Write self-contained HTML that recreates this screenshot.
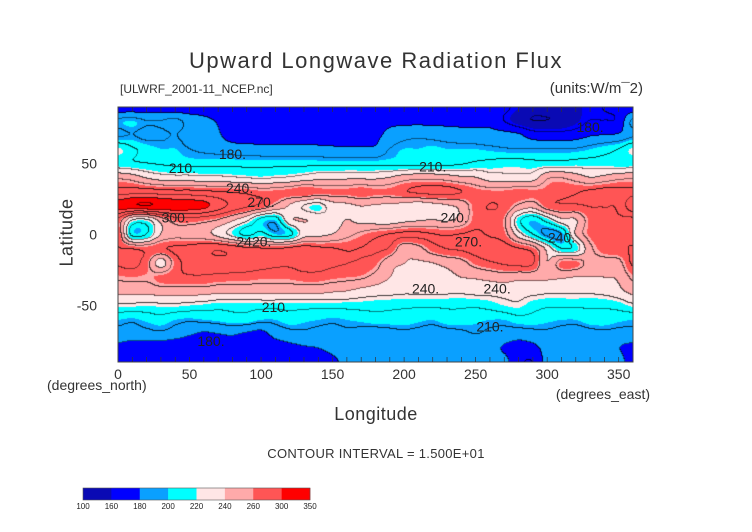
<!DOCTYPE html>
<html><head><meta charset="utf-8"><style>
body{margin:0;background:#fff;width:752px;height:532px;overflow:hidden;position:relative;font-family:"Liberation Sans",sans-serif;color:#222}
.t{position:absolute;white-space:nowrap;font-weight:300}
</style></head><body>
<div class="t" style="left:0;width:752px;text-align:center;top:48px;font-size:22px;letter-spacing:1.5px;color:#333">Upward Longwave Radiation Flux</div>
<div class="t" style="left:120px;top:82px;font-size:12px;color:#333">[ULWRF_2001-11_NCEP.nc]</div>
<div class="t" style="right:109px;top:80px;font-size:15px;color:#333">(units:W/m¯2)</div>
<div class="t" style="left:22px;top:222px;font-size:18px;transform:rotate(-90deg);transform-origin:center;width:90px;text-align:center;color:#333;letter-spacing:0.5px">Latitude</div>
<div class="t" style="left:0;width:752px;text-align:center;top:404px;font-size:18px;color:#333;letter-spacing:0.5px">Longitude</div>
<div class="t" style="left:47px;top:377px;font-size:14px;color:#333">(degrees_north)</div>
<div class="t" style="right:102px;top:386px;font-size:14px;color:#333">(degrees_east)</div>
<div class="t" style="left:0;width:752px;text-align:center;top:446px;font-size:13px;color:#333;letter-spacing:0.3px">CONTOUR INTERVAL = 1.500E+01</div>
<svg id="ax" width="752" height="532" style="position:absolute;left:0;top:0"></svg>
<canvas id="cv" width="515" height="255" style="position:absolute;left:118px;top:107px"></canvas>
<svg id="ov" width="752" height="532" style="position:absolute;left:0;top:0;pointer-events:none"></svg>
<script>
const levels=[100,160,180,200,220,240,260,300,350];
const levelColors=["#0a0ab4","#0000ff","#0aa0ff","#00ffff","#ffe6e6","#ffaaaa","#ff5555","#ff0000"];
const xTicks=[0,50,100,150,200,250,300,350];
const yTicks=[50,0,-50];
const lat90=[168,168,168,168,168,168,168,168,168,168,168,168,168,168,168,168,168,168,168,168,168,168,168,168,168,168,168,168,160,155,155,155,158,162,165,168,168];
const lat80=[198,200,195,195,198,190,185,178,172,172,172,172,172,172,172,172,172,172,172,175,175,175,175,175,175,175,175,165,155,150,150,152,158,165,165,168,198];
const lat70=[192,195,190,192,195,190,188,182,172,172,172,172,172,172,172,172,172,172,175,185,190,192,190,188,186,185,185,185,182,172,170,170,172,178,180,182,192];
const lat60=[222,212,205,200,200,195,192,190,188,186,185,185,185,185,184,183,182,182,183,195,200,200,202,200,200,200,198,196,195,195,195,195,196,200,205,210,222];
const lat50=[215,212,210,208,206,205,205,205,205,205,205,205,205,205,205,205,205,205,205,205,205,205,205,205,208,212,214,216,216,214,214,214,216,216,216,214,215];
const lat40=[252,248,238,232,230,230,228,228,226,224,222,224,226,230,234,234,236,236,236,240,247,250,250,247,242,240,232,230,230,232,252,254,248,240,244,250,252];
const lat30=[276,278,278,276,274,274,272,270,268,266,262,262,264,268,262,262,262,265,262,262,268,272,274,274,270,264,262,262,264,262,262,265,268,272,275,275,276];
const lat20=[308,312,314,312,310,308,304,292,280,272,266,252,238,224,218,232,236,240,238,236,234,230,234,238,244,264,270,267,252,246,264,268,268,270,270,272,295];
const lat10=[265,225,222,245,262,264,260,254,242,228,205,200,235,240,235,232,240,235,232,230,235,238,240,238,245,264,266,258,215,200,215,235,238,262,268,268,265];
const lat0=[268,205,210,240,250,248,245,235,220,205,215,200,205,232,235,240,250,258,265,270,272,272,270,268,270,272,268,262,232,210,192,195,240,262,265,268,268];
const latS10=[270,268,265,268,272,275,280,282,278,272,270,268,272,275,272,270,268,270,272,268,245,250,264,270,272,275,278,275,270,262,235,210,215,250,265,268,270];
const latS20=[272,275,262,232,262,275,278,280,280,278,275,272,272,275,275,272,270,268,262,245,240,238,240,245,250,262,268,272,275,272,240,262,262,250,248,250,272];
const latS30=[258,260,258,262,266,268,268,266,265,264,262,262,262,265,265,262,260,258,250,240,235,232,232,235,240,242,245,248,245,245,242,242,240,240,240,242,258];
const latS40=[245,245,245,248,248,248,248,245,245,245,245,245,245,245,245,242,240,235,232,230,228,228,228,228,228,230,230,230,230,230,228,228,228,228,230,235,245];
const latS50=[222,222,220,222,222,220,218,215,215,215,215,215,215,215,215,215,215,215,214,213,212,212,212,212,212,212,215,220,222,215,212,212,212,212,212,215,222];
const latS60=[200,198,202,205,200,198,200,202,205,205,200,200,205,202,200,198,200,202,205,205,205,202,200,205,205,202,200,200,205,205,202,200,200,205,205,202,200];
const latS70=[190,188,190,192,188,182,178,180,182,178,175,185,190,192,190,190,192,190,188,190,192,190,188,190,192,195,192,190,188,190,192,190,188,190,192,190,190];
const latS80=[175,172,170,170,168,168,170,172,170,168,170,172,175,178,180,185,188,188,190,190,188,185,188,190,190,188,185,178,172,175,185,188,190,188,185,180,175];
const latS90=[168,168,168,168,168,168,168,168,168,168,168,168,168,168,168,175,185,188,188,188,188,188,188,188,188,188,188,185,168,165,185,188,188,188,188,188,168];
const grid=[lat90,lat80,lat70,lat60,lat50,lat40,lat30,lat20,lat10,lat0,latS10,latS20,latS30,latS40,latS50,latS60,latS70,latS80,latS90];

const X0=118,X1=633,Y0=107,Y1=362;
const xs=lon=>X0+(lon/360)*(X1-X0);
const ys=lat=>Y0+((90-lat)/180)*(Y1-Y0);
function cr(p0,p1,p2,p3,t){return p1+0.5*t*(p2-p0+t*(2*p0-5*p1+4*p2-p3+t*(3*(p1-p2)+p3-p0)));}
function g(i,j){i=Math.max(0,Math.min(grid.length-1,i));j=Math.max(0,Math.min(grid[0].length-1,j));return grid[i][j];}
function val(lon,lat){
  const fi=(90-lat)/10, fj=lon/10;
  const i=Math.floor(fi), j=Math.floor(fj);
  const a=fi-i,b=fj-j;
  const r=[];
  for(let k=-1;k<=2;k++) r.push(cr(g(i+k,j-1),g(i+k,j),g(i+k,j+1),g(i+k,j+2),b));
  return cr(r[0],r[1],r[2],r[3],a)+0.37;
}
function hex(c){return [parseInt(c.slice(1,3),16),parseInt(c.slice(3,5),16),parseInt(c.slice(5,7),16)];}
const rgb=levelColors.map(hex);
function colIdx(v){for(let k=levels.length-2;k>=0;k--) if(v>=levels[k]) return k; return 0;}
const cv=document.getElementById('cv'),ctx=cv.getContext('2d');
const W=cv.width,H=cv.height,img=ctx.createImageData(W,H);
const V=new Float32Array(W*H);
for(let y=0;y<H;y++)for(let x=0;x<W;x++){
  const lon=(x+0.5)/W*360, lat=90-(y+0.5)/H*180;
  V[y*W+x]=val(lon,lat);
}
const cl=v=>Math.floor((v-165)/15);
for(let y=0;y<H;y++)for(let x=0;x<W;x++){
  const v=V[y*W+x];let c=rgb[colIdx(v)];
  const k=cl(v);
  let edge=(x+1<W&&cl(V[y*W+x+1])!==k)||(y+1<H&&cl(V[(y+1)*W+x])!==k);
  const p=(y*W+x)*4;
  if(edge){const d=(k%2===0)?0.25:0.5;c=[c[0]*d,c[1]*d,c[2]*d];}
  img.data[p]=c[0];img.data[p+1]=c[1];img.data[p+2]=c[2];img.data[p+3]=255;
}
ctx.putImageData(img,0,0);

const NS='http://www.w3.org/2000/svg';
const ax=document.getElementById('ax'),ov=document.getElementById('ov');
function mk(parent,tag,attrs,name){const e=document.createElementNS(NS,tag);for(const k in attrs)e.setAttribute(k,attrs[k]);


parent.appendChild(e);return e;}
mk(ov,'rect',{x:X0,y:Y0,width:X1-X0,height:Y1-Y0,fill:'none',stroke:'#444','stroke-width':1},'plot-border');
for(let lon=10;lon<360;lon+=10){
  mk(ov,'line',{x1:xs(lon),x2:xs(lon),y1:Y0,y2:Y0+5,stroke:'#333','stroke-width':0.7},'top-tick');
  mk(ov,'line',{x1:xs(lon),x2:xs(lon),y1:Y1,y2:Y1-5,stroke:'#333','stroke-width':0.7},'bottom-tick');
}
xTicks.forEach(t=>{
  const e=mk(ax,'text',{x:xs(t),y:Y1+17,'text-anchor':'middle','font-size':14,fill:'#333','font-family':'Liberation Sans'},'x-tick-label');
  e.textContent=t;
});
yTicks.forEach(t=>{
  const e=mk(ax,'text',{x:97,y:ys(t)+5,'text-anchor':'end','font-size':14,fill:'#333','font-family':'Liberation Sans'},'y-tick-label');
  e.textContent=t;
});
const CB0=83,CB1=310,CBY=488,CBH=12,bw=(CB1-CB0)/levelColors.length;
levelColors.forEach((c,i)=>{
  mk(ax,'rect',{x:CB0+i*bw,y:CBY,width:bw+0.3,height:CBH,fill:c},'colorbar-box');
});
mk(ax,'rect',{x:CB0,y:CBY,width:CB1-CB0,height:CBH,fill:'none',stroke:'#555','stroke-width':0.6},'colorbar-border');
levels.forEach((l,i)=>{
  const e=mk(ax,'text',{x:CB0+i*bw,y:CBY+CBH+9,'text-anchor':'middle','font-size':8,fill:'#222','font-family':'Liberation Sans'},'colorbar-label');
  e.textContent=l;
});
const labels=[[80,57,'180.'],[45,47,'210.'],[85,33,'240.'],[100,23,'270.'],[40,12,'300.'],[235,12,'240.'],[245,-5,'270.'],[215,-38,'240.'],[110,-51,'210.'],[265,-38,'240.'],[260,-65,'210.'],[65,-75,'180.'],[310,-2,'240.'],[330,76,'180.'],[220,48,'210.'],[95,-5,'2420.']];
labels.forEach(l=>{
  const e=mk(ov,'text',{x:xs(l[0]),y:ys(l[1])+5,'text-anchor':'middle','font-size':14,fill:'#222','font-family':'Liberation Sans'},'contour-label');
  e.textContent=l[2];
});
</script>
</body></html>
